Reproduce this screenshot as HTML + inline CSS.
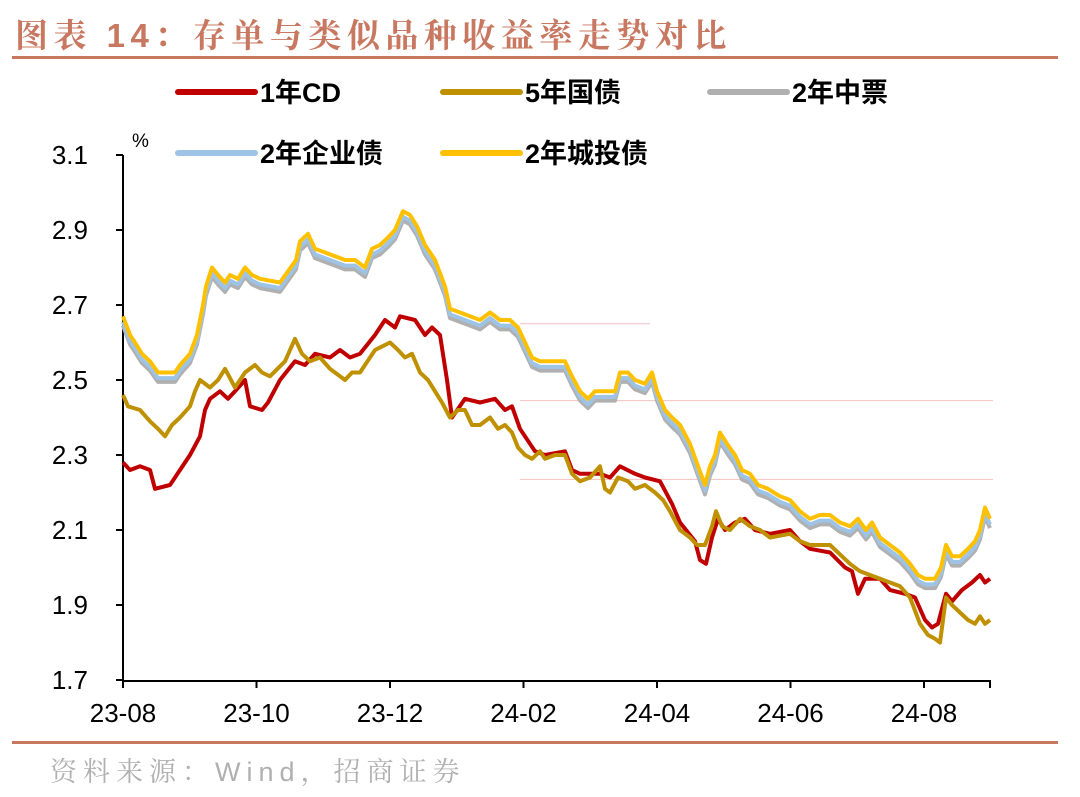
<!DOCTYPE html>
<html><head><meta charset="utf-8"><style>
body{margin:0;background:#fff;width:1080px;height:797px;overflow:hidden;font-family:"Liberation Sans","Noto Sans CJK SC",sans-serif}
</style></head><body>
<svg id="s" width="1080" height="797" xmlns="http://www.w3.org/2000/svg" style="position:absolute;left:0;top:0">
<text x="15" y="47" font-size="33" fill="#c87860" font-family="'Liberation Sans','Noto Serif CJK SC',serif" font-weight="bold" letter-spacing="5.5">图表 14：存单与类似品种收益率走势对比</text>
<rect x="12" y="56" width="1046" height="3" fill="#c87860"/>
<rect x="12" y="741" width="1046" height="3" fill="#c87860"/>
<text x="50" y="781" font-size="27" fill="#b0b0b0" font-family="'Liberation Sans','Noto Serif CJK SC',serif" letter-spacing="6">资料来源：Wind，招商证券</text>
<g font-size="27" font-weight="bold" fill="#000" font-family="'Liberation Sans','Noto Sans CJK SC',sans-serif">
<line x1="178" y1="92" x2="255" y2="92" stroke="#c00000" stroke-width="6" stroke-linecap="round"/><text x="260" y="102">1年CD</text>
<line x1="443" y1="92" x2="520" y2="92" stroke="#bf9000" stroke-width="6" stroke-linecap="round"/><text x="525" y="102">5年国债</text>
<line x1="710" y1="92" x2="787" y2="92" stroke="#b0b0b0" stroke-width="6" stroke-linecap="round"/><text x="792" y="102">2年中票</text>
<line x1="178" y1="153" x2="255" y2="153" stroke="#9dc3e6" stroke-width="6" stroke-linecap="round"/><text x="260" y="163">2年企业债</text>
<line x1="443" y1="153" x2="520" y2="153" stroke="#ffc000" stroke-width="6" stroke-linecap="round"/><text x="525" y="163">2年城投债</text>
</g>
<text x="132" y="147" font-size="19" fill="#000">%</text>
<g id="ax"></g>
<g id="lines"></g>
</svg>
<script>
function Y(v){return 155+(3.1-v)*375;}
var ax=document.getElementById('ax'),h='';
h+='<line x1="123" y1="155" x2="123" y2="681" stroke="#000" stroke-width="2"/>';
h+='<line x1="122" y1="681" x2="991" y2="681" stroke="#000" stroke-width="2"/>';
var ys=[3.1,2.9,2.7,2.5,2.3,2.1,1.9,1.7];
ys.forEach(function(v){var y=Y(v);h+='<line x1="116" y1="'+y+'" x2="123" y2="'+y+'" stroke="#000" stroke-width="2"/>';
h+='<text x="88" y="'+(y+9)+'" font-size="26" text-anchor="end" font-family="Liberation Sans">'+v.toFixed(1)+'</text>';});
var xl=['23-08','23-10','23-12','24-02','24-04','24-06','24-08'];
xl.forEach(function(t,i){var x=123+i*133.5;h+='<line x1="'+x+'" y1="681" x2="'+x+'" y2="688" stroke="#000" stroke-width="2"/>';
h+='<text x="'+x+'" y="722" font-size="26" text-anchor="middle" font-family="Liberation Sans">'+t+'</text>';});
h+='<line x1="990" y1="681" x2="990" y2="688" stroke="#000" stroke-width="2"/>';
h+='<line x1="520" y1="'+Y(2.65)+'" x2="650" y2="'+Y(2.65)+'" stroke="#f4c0c0" stroke-width="1"/>';
h+='<line x1="520" y1="'+Y(2.445)+'" x2="993" y2="'+Y(2.445)+'" stroke="#f4c0c0" stroke-width="1"/>';
h+='<line x1="520" y1="'+Y(2.235)+'" x2="993" y2="'+Y(2.235)+'" stroke="#f4c0c0" stroke-width="1"/>';
ax.innerHTML=h;
var cd=[[123,2.28],[130,2.26],[140,2.27],[150,2.26],[155,2.21],[170,2.22],[180,2.26],[190,2.30],[200,2.35],[205,2.42],[210,2.45],[220,2.47],[228,2.45],[235,2.47],[245,2.50],[250,2.43],[262,2.42],[268,2.44],[280,2.50],[295,2.55],[305,2.54],[315,2.57],[330,2.56],[340,2.58],[350,2.56],[360,2.57],[375,2.62],[385,2.66],[395,2.64],[400,2.67],[415,2.66],[425,2.62],[432,2.64],[440,2.62],[447,2.50],[452,2.40],[465,2.45],[480,2.44],[495,2.45],[505,2.42],[512,2.43],[520,2.37],[525,2.35],[535,2.31],[545,2.30],[565,2.31],[572,2.26],[580,2.25],[600,2.25],[610,2.24],[620,2.27],[635,2.25],[645,2.24],[660,2.23],[672,2.17],[680,2.12],[695,2.07],[700,2.02],[706,2.01],[712,2.08],[718,2.13],[725,2.10],[735,2.12],[745,2.13],[755,2.10],[770,2.09],[790,2.10],[800,2.07],[810,2.05],[830,2.04],[845,2.00],[852,1.99],[858,1.93],[865,1.97],[880,1.97],[890,1.94],[905,1.93],[915,1.92],[925,1.86],[932,1.84],[938,1.85],[946,1.93],[952,1.91],[962,1.94],[972,1.96],[980,1.98],[985,1.96],[990,1.97]];
var gz=[[123,2.46],[128,2.43],[140,2.42],[150,2.39],[158,2.37],[165,2.35],[172,2.38],[180,2.40],[190,2.43],[195,2.47],[200,2.50],[210,2.48],[218,2.50],[225,2.53],[235,2.48],[245,2.52],[255,2.54],[262,2.52],[270,2.51],[285,2.55],[295,2.61],[302,2.57],[310,2.55],[320,2.56],[330,2.53],[345,2.50],[352,2.52],[360,2.52],[375,2.58],[390,2.60],[398,2.58],[405,2.56],[412,2.57],[420,2.52],[428,2.50],[435,2.47],[442,2.44],[450,2.40],[458,2.42],[465,2.42],[472,2.38],[480,2.38],[490,2.40],[498,2.37],[505,2.38],[512,2.36],[518,2.32],[525,2.30],[532,2.29],[540,2.31],[545,2.29],[555,2.30],[565,2.30],[572,2.25],[580,2.23],[590,2.24],[600,2.27],[605,2.21],[610,2.20],[618,2.24],[628,2.23],[635,2.21],[645,2.22],[655,2.20],[663,2.18],[670,2.15],[680,2.10],[690,2.08],[697,2.06],[705,2.06],[712,2.11],[716,2.15],[722,2.11],[730,2.10],[740,2.13],[750,2.11],[760,2.10],[770,2.08],[790,2.09],[800,2.07],[810,2.06],[830,2.06],[842,2.03],[850,2.01],[860,1.99],[870,1.98],[880,1.97],[890,1.96],[900,1.95],[910,1.92],[920,1.85],[928,1.82],[935,1.81],[940,1.80],[946,1.92],[952,1.90],[960,1.88],[968,1.86],[975,1.85],[980,1.87],[985,1.85],[990,1.86]];
var ct=[[123,2.67],[130,2.62],[135,2.60],[142,2.57],[150,2.55],[158,2.52],[165,2.52],[175,2.52],[180,2.54],[190,2.57],[197,2.62],[203,2.70],[206,2.75],[212,2.80],[218,2.78],[225,2.76],[230,2.78],[238,2.77],[245,2.80],[252,2.78],[260,2.77],[280,2.76],[288,2.79],[296,2.82],[300,2.87],[308,2.89],[315,2.85],[325,2.84],[335,2.83],[345,2.82],[355,2.82],[365,2.80],[372,2.85],[380,2.86],[388,2.88],[395,2.90],[403,2.95],[410,2.94],[417,2.91],[425,2.86],[435,2.82],[445,2.75],[450,2.69],[460,2.68],[470,2.67],[480,2.66],[490,2.68],[500,2.66],[510,2.66],[518,2.64],[525,2.60],[532,2.56],[540,2.55],[555,2.55],[565,2.55],[572,2.51],[580,2.47],[588,2.45],[595,2.47],[605,2.47],[615,2.47],[620,2.52],[628,2.52],[635,2.50],[645,2.49],[652,2.52],[657,2.47],[665,2.42],[672,2.40],[680,2.38],[690,2.33],[698,2.27],[705,2.22],[710,2.27],[715,2.30],[720,2.36],[727,2.33],[735,2.30],[742,2.26],[750,2.25],[758,2.22],[768,2.21],[780,2.19],[790,2.18],[800,2.15],[810,2.13],[820,2.14],[830,2.14],[840,2.12],[850,2.11],[858,2.13],[866,2.10],[872,2.12],[880,2.08],[890,2.06],[900,2.04],[910,2.01],[918,1.98],[925,1.97],[935,1.97],[941,2.00],[946,2.06],[952,2.03],[960,2.03],[968,2.05],[975,2.07],[980,2.10],[985,2.16],[990,2.13]];
function pts(a,d){return a.map(function(p){return p[0]+','+Y(p[1]+d).toFixed(1)}).join(' ');}
var L=document.getElementById('lines'),s='';
function pl(a,d,c){s+='<polyline points="'+pts(a,d)+'" fill="none" stroke="'+c+'" stroke-width="4" stroke-linejoin="round"/>';}
pl(ct,-0.025,'#b0b0b0');pl(ct,-0.015,'#9dc3e6');pl(ct,0,'#ffc000');
pl(cd,0,'#c00000');pl(gz,0,'#bf9000');
L.innerHTML=s;
</script>
</body></html>
